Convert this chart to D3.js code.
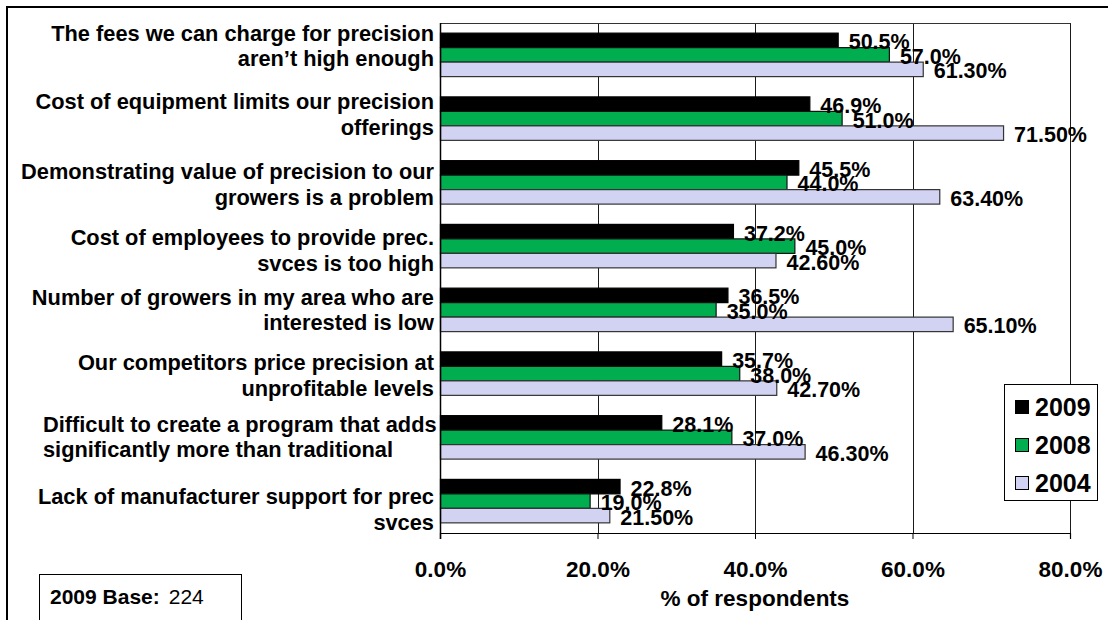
<!DOCTYPE html>
<html>
<head>
<meta charset="utf-8">
<script src="https://cdn.jsdelivr.net/npm/d3@7"></script>
<style>
  html, body { margin: 0; padding: 0; background: #fff; }
  svg { display: block; font-family: "Liberation Sans", Arial, sans-serif; }
</style>
</head>
<body>
<svg id="chart" width="1108" height="620"></svg>
<script>
// ---------------- data ----------------
const categories = [
  ["The fees we can charge for precision", "aren’t high enough"],
  ["Cost of equipment limits our precision", "offerings"],
  ["Demonstrating value of precision to our", "growers is a problem"],
  ["Cost of employees to provide prec.", "svces is too high"],
  ["Number of growers in my area who are", "interested is low"],
  ["Our competitors price precision at", "unprofitable levels"],
  ["Difficult to create a program that adds", "significantly more than traditional"],
  ["Lack of manufacturer support for prec", "svces"]
];
const seriesNames = ["2009", "2008", "2004"];
const values2009 = [50.5, 46.9, 45.5, 37.2, 36.5, 35.7, 28.1, 22.8];
const values2008 = [57.0, 51.0, 44.0, 45.0, 35.0, 38.0, 37.0, 19.0];
const values2004 = [61.3, 71.5, 63.4, 42.6, 65.1, 42.7, 46.3, 21.5];
const labelDecimals = [1, 1, 2];
const xTicks = [0, 20, 40, 60, 80];
const axisTitle = "% of respondents";
const baseLabel = "2009 Base:";
const baseValue = "224";

// ---------------- layout / style ----------------
const colors = ["#000000", "#00AE50", "#D2D3F2"];
const outlines = ["#000000", "#111111", "#333333"];
const plot = { left: 440, right: 1070, top: 23, bottom: 533 };
const labelShift = [-14.2, -9.6, -3.1, -1.1, -4.9, -3.6, -5.7, 2.9]; // line-1 baseline offset from band centre
const leftAligned = new Set([6]);

const svg = d3.select("#chart");
const seriesValues = [values2009, values2008, values2004];

const x = d3.scaleLinear().domain([0, 80]).range([plot.left, plot.right]);
const y0 = d3.scaleBand().domain(d3.range(categories.length)).range([plot.top, plot.bottom]).padding(0);
const y1 = d3.scaleBand().domain(d3.range(seriesNames.length)).range([0, y0.bandwidth()])
  .paddingInner(0).paddingOuter(0.7);

// outer frame
svg.append("rect").attr("x", 7).attr("y", 7).attr("width", 1110).attr("height", 620)
  .attr("fill", "#fff").attr("stroke", "#000").attr("stroke-width", 2);

// gridlines
svg.append("g").selectAll("line").data(xTicks.filter(d => d > 0)).join("line")
  .attr("x1", d => Math.round(x(d)) + 0.5).attr("x2", d => Math.round(x(d)) + 0.5)
  .attr("y1", plot.top).attr("y2", plot.bottom)
  .attr("stroke", "#1a1a1a").attr("stroke-width", 1);

// plot top border
svg.append("line").attr("x1", plot.left).attr("x2", plot.right + 0.5)
  .attr("y1", plot.top + 0.5).attr("y2", plot.top + 0.5)
  .attr("stroke", "#333").attr("stroke-width", 1);

// bars
const groups = svg.append("g").selectAll("g").data(categories).join("g")
  .attr("transform", (d, i) => `translate(0,${y0(i)})`);

groups.each(function (cat, ci) {
  const g = d3.select(this);
  seriesNames.forEach((s, si) => {
    const v = seriesValues[si][ci];
    g.append("rect")
      .attr("x", x(0) + 0.5)
      .attr("y", y1(si))
      .attr("width", x(v) - x(0))
      .attr("height", y1.bandwidth())
      .attr("fill", colors[si])
      .attr("stroke", outlines[si])
      .attr("stroke-width", 1.2);
  });
});

// data labels
groups.each(function (cat, ci) {
  const g = d3.select(this);
  seriesNames.forEach((s, si) => {
    const v = seriesValues[si][ci];
    g.append("text")
      .attr("x", x(v) + 11)
      .attr("y", y1(si) + y1.bandwidth() / 2 + 9)
      .attr("font-size", "21.5px").attr("font-weight", "bold").attr("fill", "#000")
      .text(v.toFixed(labelDecimals[si]) + "%");
  });
});

// category labels
groups.each(function (cat, ci) {
  const g = d3.select(this);
  const left = leftAligned.has(ci);
  const t = g.append("text")
    .attr("font-size", "21.8px").attr("font-weight", "bold").attr("fill", "#000")
    .attr("text-anchor", left ? "start" : "end");
  cat.forEach((line, li) => {
    t.append("tspan")
      .attr("x", left ? 43 : 434)
      .attr("y", y0.bandwidth() / 2 + labelShift[ci] + li * 25.5)
      .text(line);
  });
});

// y axis line
svg.append("line").attr("x1", plot.left + 0.5).attr("x2", plot.left + 0.5)
  .attr("y1", plot.top).attr("y2", plot.bottom + 6)
  .attr("stroke", "#000").attr("stroke-width", 1.5);

// x axis
const xAxis = d3.axisBottom(x).tickValues(xTicks).tickSize(6)
  .tickFormat(d => d.toFixed(1) + "%");
const ax = svg.append("g").attr("transform", `translate(0,${plot.bottom})`).call(xAxis);
ax.select(".domain").attr("stroke", "#000").attr("stroke-width", 1.2);
ax.selectAll(".tick line").attr("stroke", "#000");
ax.selectAll(".tick text").attr("y", 44).attr("dy", 0)
  .attr("font-size", "22.5px").attr("font-weight", "bold").attr("fill", "#000")
  .attr("font-family", "Liberation Sans, Arial, sans-serif");

// axis title
svg.append("text").attr("x", (plot.left + plot.right) / 2).attr("y", 606)
  .attr("text-anchor", "middle").attr("font-size", "22.5px").attr("font-weight", "bold")
  .text(axisTitle);

// legend
const lg = svg.append("g");
lg.append("rect").attr("x", 1004.5).attr("y", 384.5).attr("width", 93).attr("height", 116)
  .attr("fill", "#fff").attr("stroke", "#000").attr("stroke-width", 1);
const legendY = d3.scalePoint().domain(seriesNames).range([407, 483]);
seriesNames.forEach((s, si) => {
  lg.append("rect").attr("x", 1015.5).attr("y", legendY(s) - 6.5).attr("width", 13).attr("height", 13)
    .attr("fill", colors[si]).attr("stroke", "#000").attr("stroke-width", 1);
  lg.append("text").attr("x", 1035).attr("y", legendY(s) + 9)
    .attr("font-size", "25px").attr("font-weight", "bold").text(s);
});

// base box
const bb = svg.append("g");
bb.append("rect").attr("x", 39.5).attr("y", 574.5).attr("width", 202).attr("height", 60)
  .attr("fill", "#fff").attr("stroke", "#000").attr("stroke-width", 1);
const bt = bb.append("text").attr("x", 50).attr("y", 604).attr("font-size", "21px");
bt.append("tspan").attr("font-weight", "bold").text(baseLabel);
bt.append("tspan").attr("dx", 9).text(baseValue);
</script>
</body>
</html>
